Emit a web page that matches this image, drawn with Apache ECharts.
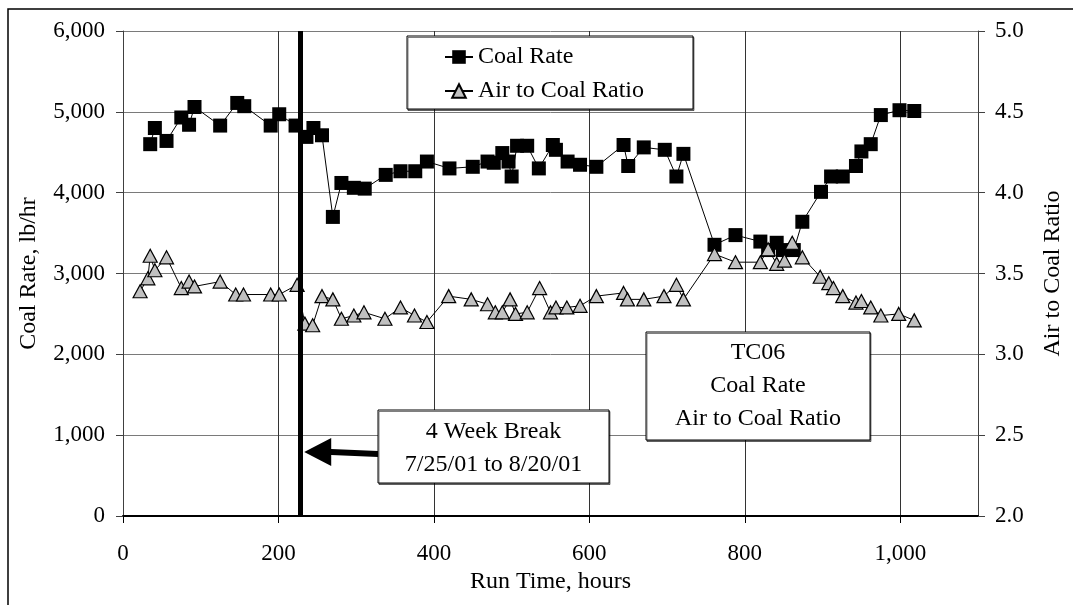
<!DOCTYPE html>
<html>
<head>
<meta charset="utf-8">
<script src="https://cdn.jsdelivr.net/npm/echarts@6/dist/echarts.min.js"></script>
<style>
  html, body { margin: 0; padding: 0; background: #fff; }
  #chart { width: 1073px; height: 605px; }
</style>
</head>
<body>
<div id="chart"></div>
<script>
// TC06 run: coal feed rate and air-to-coal ratio versus run time
const coalHours = [35, 41, 56, 75, 85, 92, 125, 147, 156, 190, 201, 222, 236, 245, 256, 270, 281, 297, 311, 338,
  357, 376, 391, 420, 450, 469, 477, 488, 496, 500, 507, 520, 535, 553, 557, 572, 588, 609, 644, 650,
  670, 697, 712, 721, 761, 788, 820, 830, 841, 849, 863, 874, 898, 911, 926, 943, 950, 962, 975, 999, 1018];
const coalRate = [4600, 4800, 4640, 4930, 4840, 5060, 4830, 5110, 5070, 4830, 4970, 4830, 4690, 4800, 4710, 3700, 4120, 4060, 4050, 4220,
  4265, 4265, 4385, 4300, 4320, 4385, 4370, 4490, 4385, 4200, 4580, 4580, 4300, 4590, 4530, 4385, 4345, 4320, 4590, 4330,
  4560, 4530, 4200, 4480, 3355, 3475, 3395, 3290, 3380, 3290, 3290, 3640, 4010, 4200, 4200, 4330, 4510, 4600, 4960, 5020, 5010];

const airHours = [22, 32, 35, 41, 56, 75, 85, 92, 125, 145, 155, 190, 201, 224, 234, 244, 256, 270, 281, 297,
  310, 337, 357, 375, 391, 419, 448, 469, 479, 488, 498, 505, 520, 536, 550, 557, 571, 588, 609, 644,
  649, 670, 696, 712, 721, 761, 788, 820, 830, 841, 851, 861, 874, 897, 908, 914, 926, 943, 950, 962, 975, 998, 1018];
const airRatio = [3.39, 3.47, 3.61, 3.52, 3.60, 3.41, 3.45, 3.42, 3.45, 3.37, 3.37, 3.37, 3.37, 3.43, 3.19, 3.18, 3.36, 3.34, 3.22, 3.24,
  3.26, 3.22, 3.29, 3.24, 3.20, 3.36, 3.34, 3.31, 3.26, 3.26, 3.34, 3.25, 3.26, 3.41, 3.26, 3.29, 3.29, 3.30, 3.36, 3.38,
  3.34, 3.34, 3.36, 3.43, 3.34, 3.62, 3.57, 3.57, 3.65, 3.56, 3.58, 3.69, 3.60, 3.48, 3.44, 3.41, 3.36, 3.32, 3.33, 3.29, 3.24, 3.25, 3.21];

// Shutdown between test segments
const breakHour = 228;
const breakLines = ['4 Week Break', '7/25/01 to 8/20/01'];
const infoLines = ['TC06', 'Coal Rate', 'Air to Coal Ratio'];

const FONT = "'Liberation Serif', 'Times New Roman', serif";
const TICK_SIZE = 23;
const TEXT_SIZE = 24;
const fmtThousands = v => Math.round(v).toLocaleString('en-US');

const chart = echarts.init(document.getElementById('chart'), null, { renderer: 'canvas' });

const option = {
  animation: false,
  backgroundColor: '#fff',
  textStyle: { fontFamily: FONT, color: '#000' },
  grid: { left: 123, right: 77, top: 31, bottom: 89, containLabel: false },
  legend: {
    data: ['Coal Rate', 'Air to Coal Ratio'],
    orient: 'vertical',
    left: 444, top: 45,
    padding: 0,
    itemWidth: 28, itemHeight: 17, itemGap: 10,
    itemTextGap: 13,
    z: 6,
    textStyle: { fontFamily: FONT, fontSize: TEXT_SIZE, lineHeight: 24, color: '#000' }
  },
  xAxis: {
    type: 'value', min: 0, max: 1100, interval: 200,
    name: 'Run Time, hours', nameLocation: 'middle', nameGap: 35,
    nameTextStyle: { fontFamily: FONT, fontSize: TEXT_SIZE, color: '#000' },
    axisLine: { onZero: false, lineStyle: { color: '#000', width: 2 } },
    axisTick: { show: true, length: 7, lineStyle: { color: '#000', width: 1 } },
    axisLabel: { fontFamily: FONT, fontSize: TICK_SIZE, color: '#000', margin: 26, showMaxLabel: false, formatter: fmtThousands },
    splitLine: { show: true, lineStyle: { color: '#333', width: 1 } }
  },
  yAxis: [
    {
      type: 'value', min: 0, max: 6000, interval: 1000, position: 'left',
      name: 'Coal Rate, lb/hr', nameLocation: 'middle', nameGap: 82, nameRotate: 90,
      nameTextStyle: { fontFamily: FONT, fontSize: TEXT_SIZE, color: '#000' },
      axisLine: { show: true, lineStyle: { color: '#404040', width: 1 } },
      axisTick: { show: true, length: 7, lineStyle: { color: '#404040' } },
      axisLabel: { fontFamily: FONT, fontSize: TICK_SIZE, color: '#000', margin: 18, formatter: fmtThousands },
      splitLine: { show: true, lineStyle: { color: '#7a7a7a', width: 1 } }
    },
    {
      type: 'value', min: 2, max: 5, interval: 0.5, position: 'right',
      name: 'Air to Coal Ratio', nameLocation: 'middle', nameGap: 63, nameRotate: 90,
      nameTextStyle: { fontFamily: FONT, fontSize: TEXT_SIZE, color: '#000' },
      axisLine: { show: true, lineStyle: { color: '#404040', width: 1 } },
      axisTick: { show: true, length: 7, lineStyle: { color: '#404040' } },
      axisLabel: { fontFamily: FONT, fontSize: TICK_SIZE, color: '#000', margin: 17, formatter: v => v.toFixed(1) },
      splitLine: { show: false }
    }
  ],
  series: [
    {
      name: 'Coal Rate', type: 'line', yAxisIndex: 0,
      data: coalHours.map((h, i) => [h, coalRate[i]]),
      symbol: 'rect', symbolSize: 14,
      lineStyle: { color: '#000', width: 1 },
      itemStyle: { color: '#000', borderColor: '#000', borderWidth: 0 },
      z: 3
    },
    {
      name: 'Air to Coal Ratio', type: 'line', yAxisIndex: 1,
      data: airHours.map((h, i) => [h, airRatio[i]]),
      symbol: 'triangle', symbolSize: [14, 13],
      lineStyle: { color: '#000', width: 1 },
      itemStyle: { color: '#c0c0c0', borderColor: '#000', borderWidth: 1.2 },
      z: 4
    },
    {
      name: 'break', type: 'line', yAxisIndex: 0, data: [], z: 10,
      markLine: {
        silent: true, symbol: ['none', 'none'],
        label: { show: false },
        lineStyle: { color: '#000', width: 5, type: 'solid' },
        data: [{ xAxis: breakHour }]
      }
    }
  ]
};
chart.setOption(option);

// Legend frame, annotation boxes, outer frame and pointer arrow
const tipX = chart.convertToPixel({ xAxisIndex: 0 }, breakHour) + 4;
const arrowY = 452;
const legendBox = { x: 407, y: 36, w: 286, h: 73 };
const boxA = { x: 378, y: 410, w: 231, h: 73 };
const boxB = { x: 646, y: 332, w: 224, h: 108 };

const textEl = (x, y, s) => ({
  type: 'text', x, y, z: 30,
  style: { text: s, fontFamily: FONT, fontSize: TEXT_SIZE, fill: '#000', align: 'center', verticalAlign: 'middle' }
});
const boxEl = (b, z) => ({
  type: 'rect', z, shape: { x: b.x, y: b.y, width: b.w, height: b.h },
  style: { fill: '#fff', stroke: '#000', lineWidth: 1, shadowColor: 'rgba(0,0,0,0.5)', shadowOffsetX: 1, shadowOffsetY: 1.5 }
});

chart.setOption({
  graphic: [
    { type: 'rect', shape: { x: 8, y: 9, width: 1100, height: 620 }, style: { fill: 'none', stroke: '#000', lineWidth: 1.5 }, z: 1, silent: true },
    boxEl(legendBox, 5),
    boxEl(boxA, 20),
    textEl(boxA.x + boxA.w / 2, 432, breakLines[0]),
    textEl(boxA.x + boxA.w / 2, 465, breakLines[1]),
    boxEl(boxB, 20),
    textEl(boxB.x + boxB.w / 2, 353, infoLines[0]),
    textEl(boxB.x + boxB.w / 2, 386, infoLines[1]),
    textEl(boxB.x + boxB.w / 2, 419, infoLines[2]),
    { type: 'polygon', z: 25,
      shape: { points: [
        [tipX, arrowY],
        [tipX + 27, arrowY - 14],
        [tipX + 27, arrowY - 3],
        [boxA.x, arrowY - 1],
        [boxA.x, arrowY + 5],
        [tipX + 27, arrowY + 3],
        [tipX + 27, arrowY + 14]
      ] },
      style: { fill: '#000' } }
  ]
});
</script>
</body>
</html>
